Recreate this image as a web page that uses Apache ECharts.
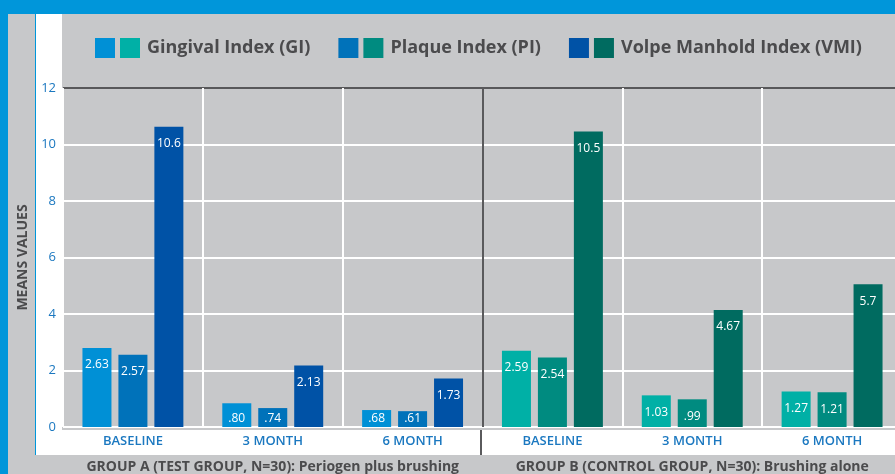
<!DOCTYPE html>
<html>
<head>
<meta charset="utf-8">
<script src="https://cdn.jsdelivr.net/npm/echarts@6/dist/echarts.min.js"></script>
<style>
  html, body { margin: 0; padding: 0; background: #0096da; width: 895px; height: 474px; overflow: hidden; }
  #chart { position: absolute; left: 8px; top: 14px; width: 900px; height: 460px; }
</style>
</head>
<body>
<div id="chart"></div>
<script>
// categories: 3 time points for each of the two groups
const timePoints = ['BASELINE', '3 MONTH', '6 MONTH', 'BASELINE', '3 MONTH', '6 MONTH'];
const groups = ['GROUP A (TEST GROUP, N=30): Periogen plus brushing', 'GROUP B (CONTROL GROUP, N=30): Brushing alone'];

// bar heights as drawn, and the printed labels
const giValues = [2.8, 0.84, 0.6, 2.7, 1.12, 1.26];
const piValues = [2.56, 0.67, 0.56, 2.46, 0.98, 1.23];
const vmiValues = [10.63, 2.18, 1.72, 10.46, 4.14, 5.05];
const giLabels = ['2.63', '.80', '.68', '2.59', '1.03', '1.27'];
const piLabels = ['2.57', '.74', '.61', '2.54', '.99', '1.21'];
const vmiLabels = ['10.6', '2.13', '1.73', '10.5', '4.67', '5.7'];

const seriesNames = ['Gingival Index (GI)', 'Plaque Index (PI)', 'Volpe Manhold Index (VMI)'];
const colorsA = ['#0090d6', '#0072ba', '#0052a6'];
const colorsB = ['#00b0a6', '#008b80', '#006b60'];

const font = '"Open Sans", Lato, sans-serif';
const txtGray = '#4b4b4d';
const axisBlue = '#1b78c0';
const darkLine = '#5a5a5c';

const myChart = echarts.init(document.getElementById('chart'));

function makeSeries(i, values, labels) {
    return {
        name: seriesNames[i],
        type: 'bar',
        barWidth: 29,
        barGap: '24%',
        itemStyle: { color: colorsA[i] },
        data: values.map((v, k) => {
            // short bars get their label pushed to the bottom
            const short = v < 0.95;
            return {
                value: v,
                itemStyle: { color: k < 3 ? colorsA[i] : colorsB[i] },
                label: short ? { position: 'insideBottom', distance: 2 } : { position: 'insideTop', distance: 11 }
            };
        }),
        label: {
            show: true,
            color: '#fff',
            fontSize: 12,
            fontFamily: font,
            formatter: p => labels[p.dataIndex]
        }
    };
}

myChart.setOption({
    backgroundColor: '#c7c8ca',
    animation: false,
    graphic: [
        { type: 'rect', z: -10, silent: true, shape: { x: 28, y: 0, width: 26, height: 441 }, style: { fill: '#fff' } },
        { type: 'rect', z: -10, silent: true, shape: { x: 28, y: 416, width: 880, height: 25 }, style: { fill: '#fff' } },
        { type: 'rect', z: -10, silent: true, shape: { x: 27, y: 0, width: 1, height: 441 }, style: { fill: '#0096da' } },
        // group divider carried down through the label strip
        { type: 'line', silent: true, shape: { x1: 473, y1: 416, x2: 473, y2: 441 }, style: { stroke: darkLine, lineWidth: 2 } }
    ],
    legend: {
        left: 87,
        top: 24,
        padding: 0,
        itemWidth: 20,
        itemHeight: 20,
        itemGap: 28,
        icon: 'rect',
        selectedMode: false,
        data: seriesNames,
        formatter: name => {
            const k = seriesNames.indexOf(name);
            return '{s' + k + '|}{t|' + name + '}';
        },
        textStyle: {
            rich: {
                s0: { width: 20, height: 20, backgroundColor: colorsB[0] },
                s1: { width: 20, height: 20, backgroundColor: colorsB[1] },
                s2: { width: 20, height: 20, backgroundColor: colorsB[2] },
                t: { fontSize: 18, fontWeight: 'bold', color: txtGray, fontFamily: font, padding: [0, 0, 0, 7] }
            }
        }
    },
    grid: { left: 54, top: 74, width: 840, height: 342 },
    xAxis: [
        {
            type: 'category',
            data: timePoints,
            axisLine: { show: false },
            axisTick: { show: false },
            axisLabel: { color: axisBlue, fontSize: 13, fontWeight: 600, fontFamily: font, margin: 8 },
            splitLine: {
                show: true,
                lineStyle: { color: ['#fff', '#fff', '#fff', darkLine, '#fff', '#fff', '#fff'], width: 2 }
            }
        },
        {
            type: 'category',
            data: groups,
            position: 'bottom',
            axisLine: { show: false },
            axisTick: { show: false },
            axisLabel: { interval: 0, color: txtGray, fontSize: 14, fontWeight: 'bold', fontFamily: font, margin: 33 },
            splitLine: { show: false }
        }
    ],
    yAxis: {
        type: 'value',
        min: 0,
        max: 12,
        interval: 2,
        name: 'MEANS VALUES',
        nameLocation: 'middle',
        nameGap: 33,
        nameTextStyle: { color: txtGray, fontSize: 14, fontWeight: 'bold', fontFamily: font },
        axisLine: { show: false },
        axisTick: { show: false },
        axisLabel: { color: axisBlue, fontSize: 13, fontFamily: font, margin: 7 },
        splitLine: {
            lineStyle: { color: ['#fff', '#fff', '#fff', '#fff', '#fff', '#fff', '#58585a'], width: 2 }
        }
    },
    series: [
        makeSeries(0, giValues, giLabels),
        makeSeries(1, piValues, piLabels),
        makeSeries(2, vmiValues, vmiLabels)
    ]
});
</script>
</body>
</html>
